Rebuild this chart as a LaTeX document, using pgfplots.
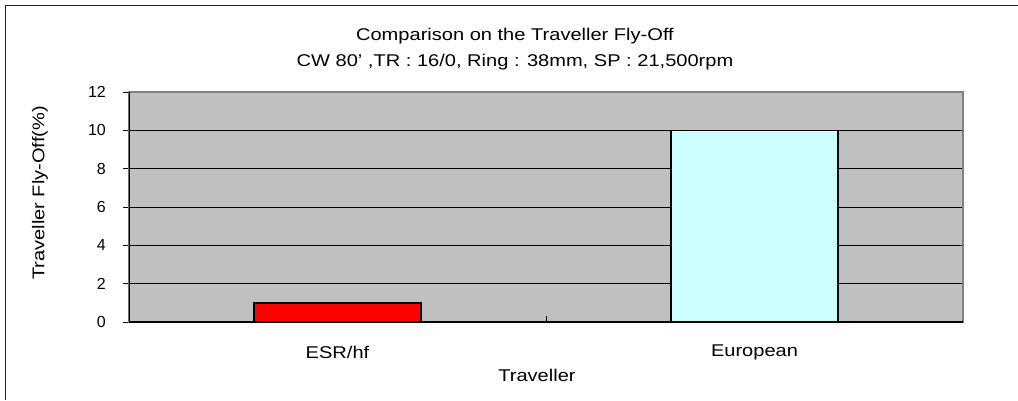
\documentclass[border=0pt]{standalone}
\usepackage{fontspec}
\setmainfont[FakeStretch=1.18]{Liberation Sans}
\newfontfamily\tickfont{Liberation Sans}
\usepackage{pgfplots}
\pgfplotsset{compat=1.18}
\definecolor{plotbg}{HTML}{C0C0C0}
\definecolor{bordergray}{HTML}{808080}
\definecolor{lightcyan}{HTML}{CCFFFF}
\begin{document}
\begin{tikzpicture}[x=1pt,y=1pt]
\path[use as bounding box] (0,0) rectangle (1018,400);
\draw[line width=1.5pt, black!85] (5.5,0) -- (5.5,394.5) -- (1018,394.5);
\begin{axis}[
  at={(129pt,78pt)}, anchor=south west,
  width=834pt, height=230pt, scale only axis,
  xmin=-0.5, xmax=1.5, ymin=0, ymax=12,
  ytick={0,2,...,12},
  xtick={-0.5,0.5,1.5}, xticklabels={},
  extra x ticks={0,1}, extra x tick labels={ESR/hf,European},
  extra x tick style={major tick length=0pt,
    xticklabel style={anchor=center, yshift=-30pt, font=\fontsize{17}{20}\selectfont}},
  xtick pos=left, ytick pos=left,
  tick align=outside, major tick length=6pt,
  xtick style={yshift=6pt},
  tick style={black, line width=1pt},
  /pgf/number format/assume math mode=true,
  yticklabel style={font=\tickfont\fontsize{16}{18}\selectfont, anchor=east, inner sep=0pt, xshift=-17pt},
  ymajorgrids, major grid style={black, line width=1pt},
  axis background/.style={fill=plotbg},
  axis line style={draw=bordergray, line width=1.5pt},
  title={Comparison on the Traveller Fly-Off\\CW 80' ,TR : 16/0, Ring : 38mm, SP : 21,500rpm},
  title style={at={(axis description cs:0.4628,1)}, anchor=south, yshift=15.5pt, inner sep=0pt,
    align=center, font=\fontsize{17}{26}\selectfont},
  xlabel={Traveller},
  xlabel style={at={(axis description cs:0.4892,-0.2304)}, anchor=center, font=\fontsize{17}{20}\selectfont},
  ylabel={Traveller Fly-Off(\%)},
  ylabel style={at={(axis description cs:-0.1067,0.561)}, anchor=center, font=\fontsize{17}{20}\selectfont},
  ybar, bar width=167pt,
]
\addplot[ybar, bar shift=0pt, fill=red, draw=black, line width=1.5pt] coordinates {(0,1)};
\addplot[ybar, bar shift=0pt, fill=lightcyan, draw=black, line width=1.5pt] coordinates {(1,10)};
\draw[bordergray, line width=1.5pt] (rel axis cs:0,1) -- (rel axis cs:1,1) -- (rel axis cs:1,0);
\draw[black, line width=1.5pt] (rel axis cs:0,1) -- (rel axis cs:0,0) -- (rel axis cs:1,0);
\end{axis}
\end{tikzpicture}
\end{document}
